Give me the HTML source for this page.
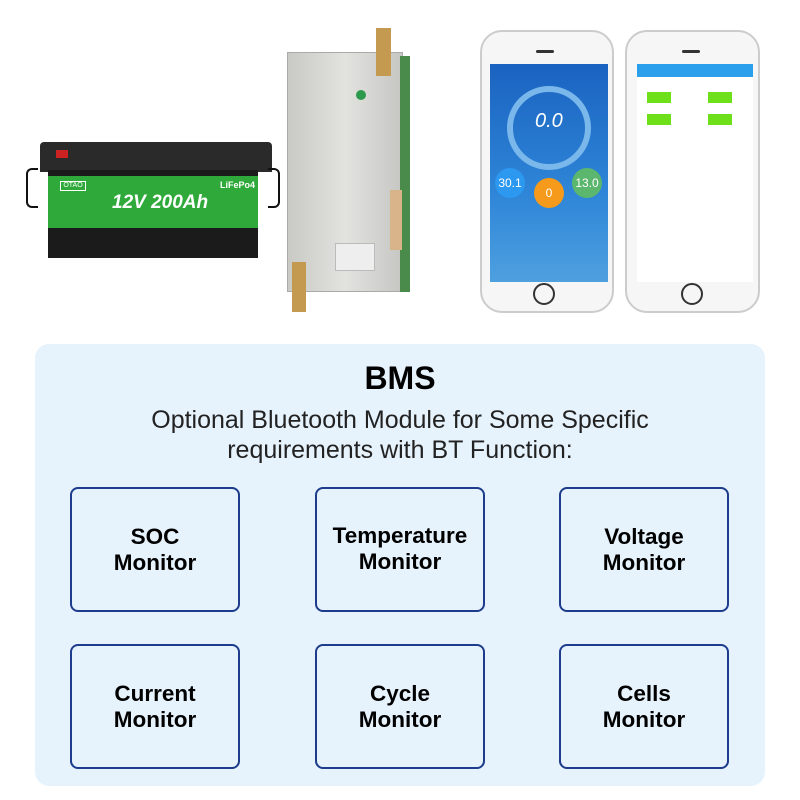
<!DOCTYPE html>
<html><head><style>
*{margin:0;padding:0;box-sizing:border-box}
body{width:800px;height:800px;background:#fff;position:relative;font-family:"Liberation Sans",sans-serif;overflow:hidden}
.a{position:absolute}
.panel{left:35px;top:344px;width:730px;height:442px;background:#e6f2fc;border-radius:14px}
.box{position:absolute;width:170px;height:125px;border:2px solid #1d3c8c;border-radius:8px;display:flex;align-items:center;justify-content:center;text-align:center;font-weight:bold;font-size:22.5px;line-height:26px;color:#000}
</style></head><body>
<!-- battery -->
<div class="a" style="left:40px;top:142px;width:232px;height:30px;background:#2a2a2a;border-radius:4px 4px 0 0"></div>
<div class="a" style="left:56px;top:150px;width:12px;height:8px;background:#c22"></div>
<div class="a" style="left:26px;top:168px;width:12px;height:40px;border:2px solid #111;border-right:none;border-radius:6px 0 0 6px"></div>
<div class="a" style="left:268px;top:168px;width:12px;height:40px;border:2px solid #111;border-left:none;border-radius:0 6px 6px 0"></div>
<div class="a" style="left:48px;top:170px;width:210px;height:88px;background:#1b1b1b"></div>
<div class="a" style="left:48px;top:176px;width:210px;height:52px;background:#2faa3a"></div>
<div class="a" style="left:60px;top:181px;width:26px;height:10px;border:1px solid #fff;color:#fff;font-size:7px;text-align:center">OTAO</div>
<div class="a" style="left:220px;top:180px;color:#fff;font-size:9px;font-weight:bold">LiFePo4</div>
<div class="a" style="left:112px;top:192px;color:#fff;font-size:19px;font-weight:bold;font-style:italic">12V 200Ah</div>
<!-- bms board -->
<div class="a" style="left:287px;top:52px;width:116px;height:240px;background:linear-gradient(90deg,#c9c9c6,#e2e2df 50%,#c6c6c3);border:1px solid #aaa"></div>
<div class="a" style="left:400px;top:56px;width:10px;height:236px;background:#4a8a4a"></div>
<div class="a" style="left:390px;top:190px;width:12px;height:60px;background:#d9b38a"></div>
<div class="a" style="left:376px;top:28px;width:15px;height:48px;background:#c49a50"></div>
<div class="a" style="left:292px;top:262px;width:14px;height:50px;background:#c49a50"></div>
<div class="a" style="left:356px;top:90px;width:10px;height:10px;border-radius:50%;background:#2b9a4a"></div>
<div class="a" style="left:335px;top:243px;width:40px;height:28px;background:#eee;border:1px solid #bbb"></div>
<!-- phone 1 -->
<div class="a" style="left:480px;top:30px;width:134px;height:283px;background:#f6f6f6;border:2px solid #ccc;border-radius:22px"></div>
<div class="a" style="left:536px;top:50px;width:18px;height:3px;background:#333;border-radius:2px"></div>
<div class="a" style="left:490px;top:64px;width:118px;height:218px;background:linear-gradient(#1a63c0,#2f86d8 60%,#4ea0df)"></div>
<div class="a" style="left:507px;top:86px;width:84px;height:84px;border-radius:50%;border:6px solid #7ab8ec"></div>
<div class="a" style="left:535px;top:110px;color:#fff;font-size:20px;font-style:italic">0.0</div>
<div class="a" style="left:495px;top:168px;width:30px;height:30px;border-radius:50%;background:#2d98f0;color:#fff;font-size:12px;text-align:center;line-height:30px">30.1</div>
<div class="a" style="left:534px;top:178px;width:30px;height:30px;border-radius:50%;background:#f59a1a;color:#fff;font-size:12px;text-align:center;line-height:30px">0</div>
<div class="a" style="left:572px;top:168px;width:30px;height:30px;border-radius:50%;background:#5bb66e;color:#fff;font-size:12px;text-align:center;line-height:30px">13.0</div>
<div class="a" style="left:533px;top:283px;width:22px;height:22px;border-radius:50%;border:2px solid #333"></div>
<!-- phone 2 -->
<div class="a" style="left:625px;top:30px;width:135px;height:283px;background:#f6f6f6;border:2px solid #ccc;border-radius:22px"></div>
<div class="a" style="left:682px;top:50px;width:18px;height:3px;background:#333;border-radius:2px"></div>
<div class="a" style="left:637px;top:64px;width:116px;height:218px;background:#fff"></div>
<div class="a" style="left:637px;top:64px;width:116px;height:13px;background:#2aa0ec"></div>
<div class="a" style="left:647px;top:92px;width:24px;height:11px;background:#6ee01a"></div>
<div class="a" style="left:708px;top:92px;width:24px;height:11px;background:#6ee01a"></div>
<div class="a" style="left:647px;top:114px;width:24px;height:11px;background:#6ee01a"></div>
<div class="a" style="left:708px;top:114px;width:24px;height:11px;background:#6ee01a"></div>
<div class="a" style="left:681px;top:283px;width:22px;height:22px;border-radius:50%;border:2px solid #333"></div>
<!-- panel -->
<div class="a panel"></div>
<div class="a" style="left:0;top:360px;width:800px;text-align:center;font-size:32px;font-weight:bold;color:#000">BMS</div>
<div class="a" style="left:0;top:405px;width:800px;text-align:center;font-size:25px;line-height:30px;color:#222">Optional Bluetooth Module for Some Specific<br>requirements with BT Function:</div>
<div class="box" style="left:70px;top:487px">SOC<br>Monitor</div>
<div class="box" style="left:315px;top:487px;align-items:flex-start;padding-top:34px">Temperature<br>Monitor</div>
<div class="box" style="left:559px;top:487px">Voltage<br>Monitor</div>
<div class="box" style="left:70px;top:644px">Current<br>Monitor</div>
<div class="box" style="left:315px;top:644px">Cycle<br>Monitor</div>
<div class="box" style="left:559px;top:644px">Cells<br>Monitor</div>
</body></html>
